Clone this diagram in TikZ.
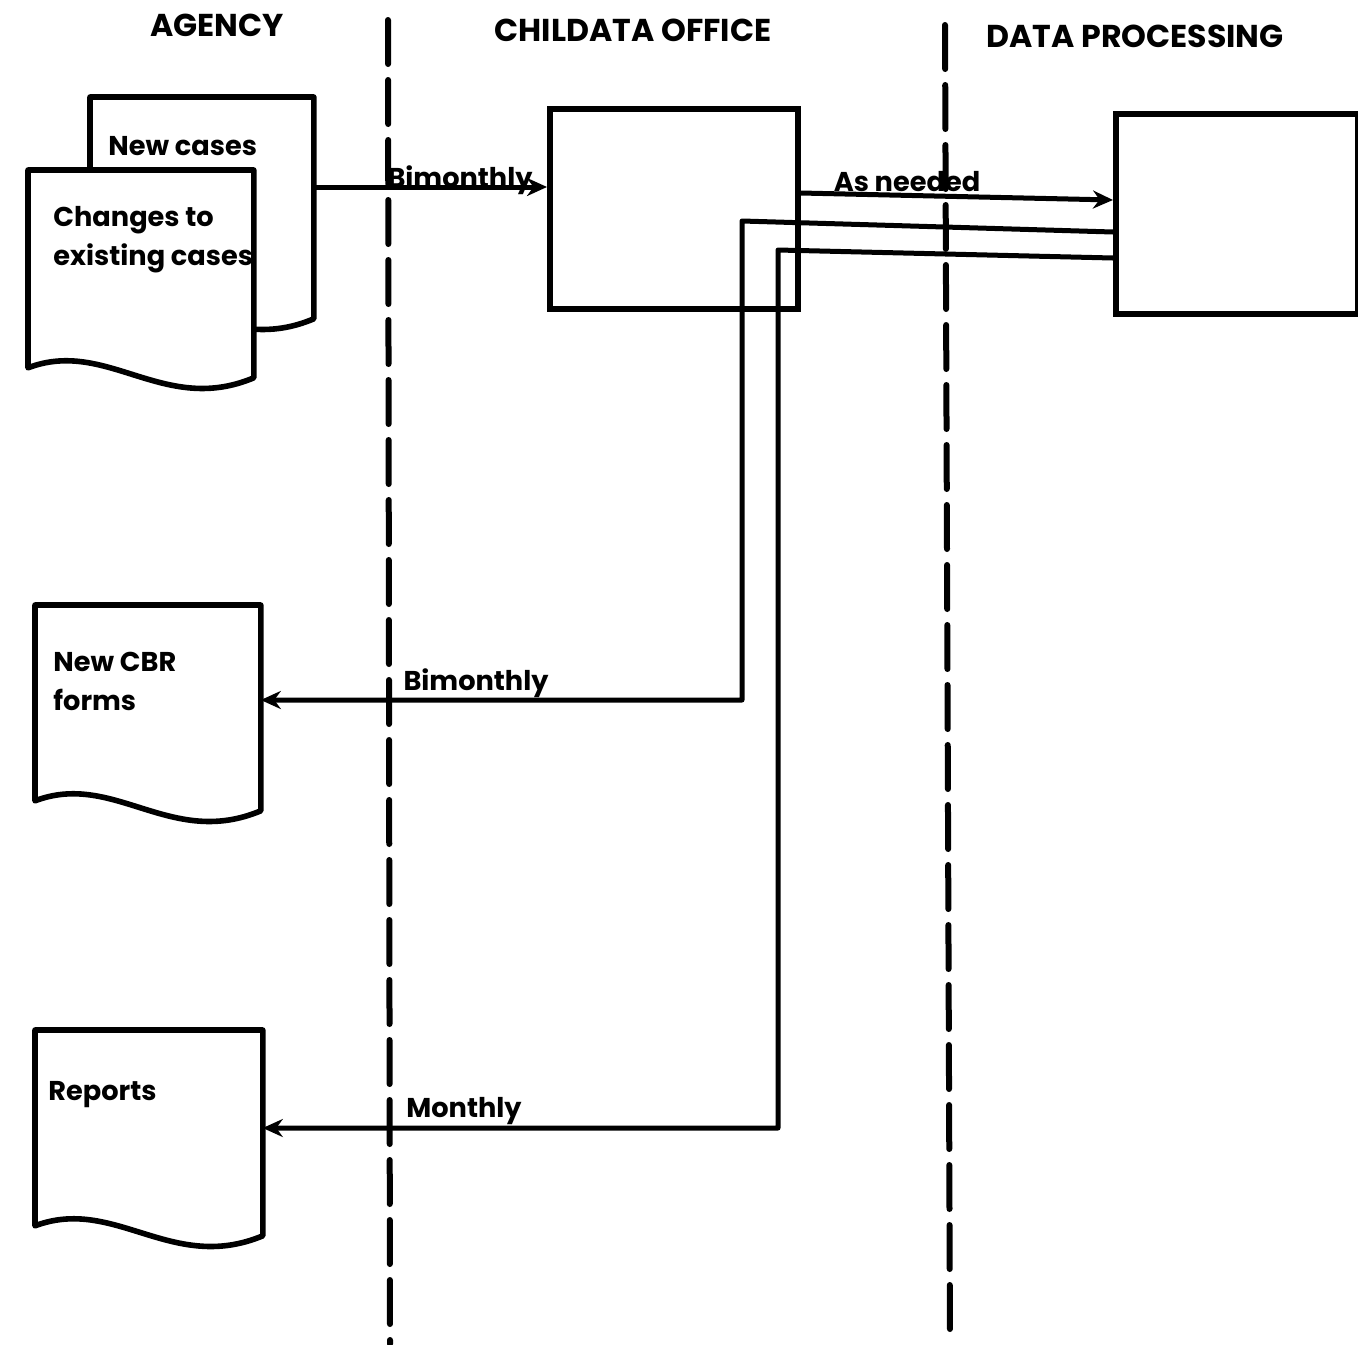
\documentclass[tikz,border=0pt]{standalone}
\usepackage{fontspec}
\setmainfont{Poppins}
\usetikzlibrary{arrows.meta,calc}
\newcommand\docoutline[1]{%
  \filldraw[docline] (#1.south west) -- (#1.north west) -- (#1.north east) -- ($(#1.south east)+(0,10)$)
    .. controls ($(#1.south west)!0.6!(#1.south east)+(0,48)$) and ($(#1.south west)!0.35!(#1.south east)+(0,-30)$) .. (#1.south west) -- cycle;}
\begin{document}
\begin{tikzpicture}[x=0.5pt,y=-0.5pt,
  box/.style={draw,line width=2.8pt,inner sep=0pt,anchor=north west},
  docbox/.style={inner sep=0pt,anchor=north west},
  docline/.style={fill=white,draw=black,line width=2.8pt,line join=round},
  conn/.style={line width=2.5pt},
  arr/.style={-{Stealth[length=10pt,width=9pt]}},
  lane/.style={line width=3pt,dash pattern=on 22pt off 8pt,line cap=round},
  head/.style={font=\fontsize{15.8}{20}\selectfont\bfseries,inner sep=0pt},
  txt/.style={font=\fontsize{13.6}{19.5}\selectfont\bfseries,align=left,inner sep=0pt},
  flab/.style={font=\fontsize{13.6}{18}\selectfont\bfseries,inner sep=0pt,anchor=base},
]
\useasboundingbox (0,0) rectangle (1358,1344);

% swimlane separators
\coordinate (l1t) at (388,20);
\coordinate (l1b) at (390,1344);
\coordinate (l2t) at (945,25);
\coordinate (l2b) at (950,1344);
\draw[lane] (l1t) -- (l1b);
\draw[lane] (l2t) -- (l2b);

% headers
\node[head] (hagency) at (217,25) {AGENCY};
\node[head] (hchild) at (633,30) {CHILDATA OFFICE};
\node[head] (hdp) at (1135,36) {DATA PROCESSING};

% documents
\node[docbox, minimum width=111.5pt, minimum height=105.5pt] (newcases) at (90,97) {};
\docoutline{newcases}
\node[docbox, minimum width=112.5pt, minimum height=98.5pt] (changes) at (28,170) {};
\docoutline{changes}
\node[docbox, minimum width=112.5pt, minimum height=97.5pt] (cbr) at (35,605) {};
\docoutline{cbr}
\node[docbox, minimum width=113.5pt, minimum height=97.5pt] (reports) at (35,1030) {};
\docoutline{reports}

\node[txt,anchor=base west] (tnew) at (108,155) {New cases};
\node[txt,anchor=north west] (tchg) at (53,206) {Changes to\\existing cases};
\node[txt,anchor=north west] (tcbr) at (53,652) {New CBR\\forms};
\node[txt,anchor=base west] (trep) at (48,1100) {Reports};

% processes
\node[box, minimum width=124pt, minimum height=100pt] (childata) at (547,106) {};
\node[box, minimum width=121pt, minimum height=100pt] (dp) at (1113,111) {};

% connector helpers
\coordinate (y1) at (0,187);
\coordinate (y2a) at (0,193);
\coordinate (y2b) at (0,200);
\coordinate (y3a) at (0,232);
\coordinate (c3a) at (742,221);
\coordinate (c3b) at (742,700);
\coordinate (y4a) at (0,258);
\coordinate (c4a) at (778,250);
\coordinate (c4b) at (778,1128);

\draw[conn,arr] (newcases.east |- y1) -- (childata.west |- y1);
\draw[conn,arr] (childata.east |- y2a) -- (dp.west |- y2b);
\draw[conn,arr,line join=round] (dp.west |- y3a) -- (c3a) -- (c3b) -- (cbr.east |- c3b);
\draw[conn,arr,line join=round] (dp.west |- y4a) -- (c4a) -- (c4b) -- (reports.east |- c4b);

% labels
\node[flab] (lb1) at (460,187) {Bimonthly};
\node[flab] (lb2) at (907,191) {As needed};
\node[flab] (lb3) at (476,690) {Bimonthly};
\node[flab] (lb4) at (464,1117) {Monthly};
\end{tikzpicture}
\end{document}
